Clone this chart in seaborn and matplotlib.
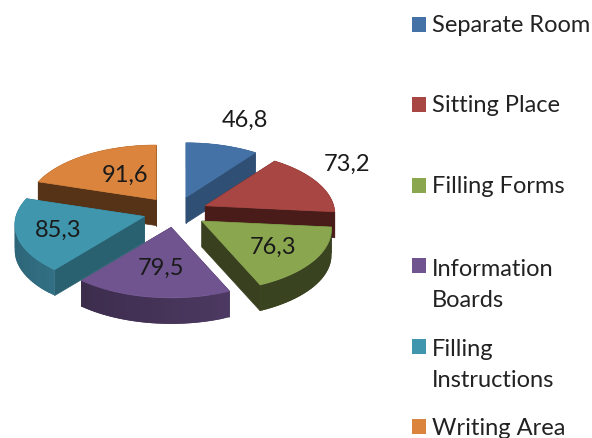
import numpy as np
import matplotlib
matplotlib.use("Agg")
import matplotlib.pyplot as plt
from matplotlib.patches import Polygon, Rectangle
import matplotlib.colors as mc
import seaborn as sns

categories = ["Separate Room", "Sitting Place", "Filling Forms",
              "Information\nBoards", "Filling\nInstructions", "Writing Area"]
values = [46.8, 73.2, 76.3, 79.5, 85.3, 91.6]

top_colors = ["#4472a6", "#a84643", "#8aa64e", "#705490", "#3f96ad", "#db843d"]
rim_colors = ["#2f4f75", "#4a1c19", "#3a4320", "#463459", "#3a8199", "#563216"]
cut_colors = ["#2f4f75", "#4a1c19", "#384020", "#3c2c4e", "#296170", "#563216"]
label_pos = [(245, 120), (347, 164), (273, 247), (161, 268), (58, 230), (125, 175)]
legend_y = [25, 105, 186, 266, 347, 428]
text_y = [26, 106, 187, 285, 365, 429]
draw_order = [0, 1, 2, 5, 3, 4]

CX, CY = 175.5, 213.0
EXPLODE = 0.25
DEPTH = 26

sns.set_theme(style="white")
plt.rcParams["font.family"] = ["Lato", "DejaVu Sans"]

fig = plt.figure(figsize=(5.92, 4.39), dpi=100)
ax = fig.add_axes([0, 0, 1, 1])
ax.set_xlim(0, 592)
ax.set_ylim(439, 0)
ax.axis("off")


def project(theta):
    """Perspective projection of a unit-circle offset, theta clockwise from top."""
    X, Y = np.sin(theta), np.cos(theta)
    rx = 128.5 - 17 * Y
    ry = 62.5 - 8 * Y
    return X * rx, -Y * ry


def shade(col, f):
    return tuple(np.clip(np.array(mc.to_rgb(col)) * f, 0, 1))


fractions = np.array(values) / np.sum(values)
edges = np.concatenate([[0], np.cumsum(fractions)]) * 2 * np.pi

for i in draw_order:
    a0, a1 = edges[i], edges[i + 1]
    mid = (a0 + a1) / 2
    ax0 = CX + EXPLODE * 130 * np.sin(mid)
    ay0 = CY - EXPLODE * 62 * np.cos(mid)
    th = np.linspace(a0, a1, 25)
    px, py = project(th)
    rimx, rimy = ax0 + px, ay0 + py
    # radial cut faces
    for k in (0, -1):
        ax.add_patch(Polygon([(ax0, ay0), (rimx[k], rimy[k]),
                              (rimx[k], rimy[k] + DEPTH), (ax0, ay0 + DEPTH)],
                             closed=True, fc=cut_colors[i], ec=cut_colors[i], lw=0.5))
    # outer rim with a soft gradient (overlapping bands, no seams)
    for j in range(len(th) - 1):
        f = 1.0 + 0.22 * np.sin(th[j])
        c = shade(rim_colors[i], f if i in (3, 4) else 1.0)
        n = min(j + 3, len(th))
        ax.add_patch(Polygon(np.column_stack([
            np.r_[rimx[j:n], rimx[j:n][::-1]],
            np.r_[rimy[j:n], rimy[j:n][::-1] + DEPTH]]),
            closed=True, fc=c, ec="none", lw=0))
    # top face
    ax.add_patch(Polygon(np.column_stack([np.r_[ax0, rimx], np.r_[ay0, rimy]]),
                         closed=True, fc=top_colors[i], ec=top_colors[i], lw=0.5))

for v, (x, y) in zip(values, label_pos):
    ax.text(x, y, f"{v:.1f}".replace(".", ","), ha="center", va="center",
            fontsize=17, color="#1a1a1a")

for c, col, ys, yt in zip(categories, top_colors, legend_y, text_y):
    ax.add_patch(Rectangle((412, ys - 7.5), 14, 15, fc=col, ec="none"))
    ax.text(432, yt, c, ha="left", va="center",
            fontsize=17, color="#222222", linespacing=1.6, clip_on=True)

fig.savefig("out.png", dpi=100, facecolor="white")
